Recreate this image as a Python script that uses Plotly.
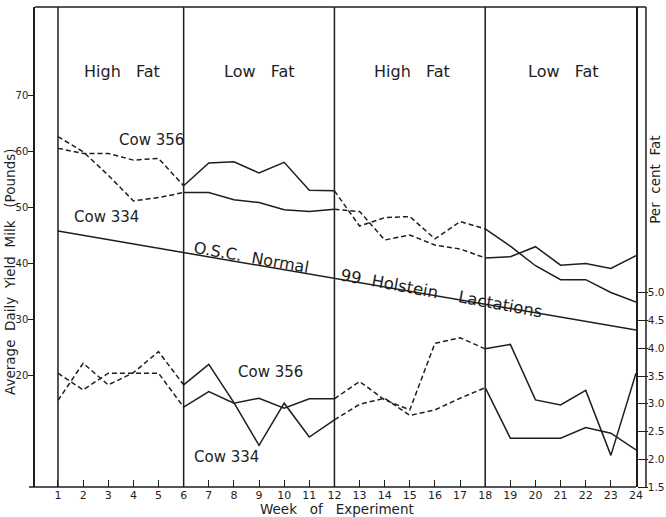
import plotly.graph_objects as go

# Weeks of the experiment
weeks = list(range(1, 25))

# Average daily milk yield (pounds)
milk_cow356 = [60.6, 59.7, 59.7, 58.5, 58.8, 53.9, 58.0, 58.2, 56.2, 58.1, 53.1, 53.0,
               46.7, 48.2, 48.4, 44.4, 47.5, 46.2, 43.1, 39.6, 37.1, 37.1, 34.8, 33.1]
milk_cow334 = [62.7, 60.0, 55.8, 51.2, 51.8, 52.7, 52.7, 51.4, 50.9, 49.6, 49.3, 49.7,
               49.3, 44.2, 45.1, 43.3, 42.6, 41.0, 41.2, 43.0, 39.7, 40.0, 39.1, 41.4]

# O.S.C. normal lactation curve, 99 Holstein lactations (straight line)
normal_weeks = [1, 24]
normal_milk = [45.8, 28.1]

# Per cent fat
fat_cow356 = [3.06, 3.73, 3.34, 3.56, 3.94, 3.34, 3.71, 3.02, 2.25, 3.01, 2.40, 2.71,
              2.99, 3.10, 2.79, 2.89, 3.10, 3.29, 2.38, 2.38, 2.38, 2.57, 2.47, 2.17]
fat_cow334 = [3.55, 3.25, 3.55, 3.55, 3.55, 2.94, 3.22, 3.01, 3.10, 2.92, 3.09, 3.09,
              3.40, 3.07, 2.89, 4.09, 4.19, 3.99, 4.07, 3.07, 2.98, 3.24, 2.07, 3.55]

# Feeding periods
period_bounds = [1, 6, 12, 18, 24]
period_names = ["High\u00a0\u00a0\u00a0Fat", "Low\u00a0\u00a0\u00a0Fat",
                "High\u00a0\u00a0\u00a0Fat", "Low\u00a0\u00a0\u00a0Fat"]
period_centers = [3.55, 9.0, 15.1, 21.1]

milk_ticks = [20, 30, 40, 50, 60, 70]
fat_ticks = [1.5, 2.0, 2.5, 3.0, 3.5, 4.0, 4.5, 5.0]

INK = "#1e1e1e"
FONT = "DejaVu Sans"
LW = 1.5

fig = go.Figure()


def add_periods(values, yaxis):
    # dashed during high-fat periods, solid during low-fat periods
    for i in range(len(period_bounds) - 1):
        a, b = period_bounds[i], period_bounds[i + 1]
        idx = [w - 1 for w in range(a, b + 1)]
        fig.add_trace(go.Scatter(
            x=[weeks[j] for j in idx], y=[values[j] for j in idx],
            mode="lines", yaxis=yaxis, hoverinfo="skip",
            line=dict(color=INK, width=LW, dash="5px,3px" if i % 2 == 0 else "solid"),
        ))


add_periods(milk_cow356, "y")
add_periods(milk_cow334, "y")
add_periods(fat_cow356, "y2")
add_periods(fat_cow334, "y2")

fig.add_trace(go.Scatter(x=normal_weeks, y=normal_milk, mode="lines", yaxis="y",
                         hoverinfo="skip", line=dict(color=INK, width=LW)))

shapes = []
# period dividers
for w in period_bounds[:-1]:
    shapes.append(dict(type="line", xref="x", yref="paper", x0=w, x1=w, y0=0, y1=1,
                       line=dict(color=INK, width=LW)))
# frame: top and outer right edges, bottom axis line
shapes.append(dict(type="line", xref="paper", yref="paper", x0=0, x1=1.0166, y0=1, y1=1,
                   line=dict(color=INK, width=LW)))
shapes.append(dict(type="line", xref="paper", yref="paper", x0=1.0166, x1=1.0166, y0=0, y1=1,
                   line=dict(color=INK, width=LW)))
shapes.append(dict(type="line", xref="paper", yref="paper", x0=-0.01, x1=1, y0=0, y1=0,
                   line=dict(color=INK, width=LW)))

annotations = []
for name, cx in zip(period_names, period_centers):
    annotations.append(dict(text=name, x=cx, y=0.865, xref="x", yref="paper",
                            font=dict(family=FONT, size=16, color=INK)))

cow_font = dict(family=FONT, size=15, color=INK)
osc_font = dict(family=FONT, size=16, color=INK)
axis_font = dict(family=FONT, size=13.5, color=INK)
annotations += [
    dict(text="Cow 356", x=4.74, y=62.1, xref="x", yref="y", font=cow_font),
    dict(text="Cow 334", x=2.93, y=48.3, xref="x", yref="y", font=cow_font),
    dict(text="Cow 356", x=9.44, y=3.58, xref="x", yref="y2", font=cow_font),
    dict(text="Cow 334", x=7.71, y=2.04, xref="x", yref="y2", font=cow_font),
    dict(text="O.S.C.\u00a0\u00a0Normal", x=8.7, y=41.0, xref="x", yref="y",
         textangle=10, font=osc_font),
    dict(text="99\u00a0\u00a0Holstein\u00a0\u00a0\u00a0\u00a0Lactations", x=16.25, y=34.6,
         xref="x", yref="y", textangle=10.5, font=dict(family=FONT, size=16.5, color=INK)),
    dict(text="Average\u00a0\u00a0Daily\u00a0\u00a0Yield\u00a0\u00a0Milk\u00a0\u00a0\u00a0(Pounds)",
         x=-0.0416, y=0.45, xref="paper", yref="paper", textangle=-90, font=axis_font),
    dict(text="Per\u00a0\u00a0cent\u00a0\u00a0Fat", x=1.0316, y=0.64, xref="paper",
         yref="paper", textangle=-90, font=axis_font),
    dict(text="Week\u00a0\u00a0\u00a0of\u00a0\u00a0\u00a0Experiment", x=0.5025, y=-0.046,
         xref="paper", yref="paper", font=axis_font),
]
for a in annotations:
    a.setdefault("showarrow", False)
    a.setdefault("xanchor", "center")
    a.setdefault("yanchor", "middle")

fig.update_layout(
    width=666, height=517,
    margin=dict(l=35, r=30, t=7, b=30),
    paper_bgcolor="white", plot_bgcolor="white",
    showlegend=False,
    font=dict(family=FONT, color=INK),
    xaxis=dict(range=[0.085, 24], tickmode="array", tickvals=weeks,
               ticktext=[str(w) for w in weeks], ticks="inside", ticklen=7,
               tickwidth=1.2, tickcolor=INK, showgrid=False, zeroline=False,
               showline=False, automargin=False,
               tickfont=dict(family=FONT, size=11, color=INK)),
    yaxis=dict(range=[0, 85.9], tickmode="array", tickvals=milk_ticks,
               ticktext=[str(v) for v in milk_ticks], ticks="outside", ticklen=5,
               ticklabelstandoff=-2, automargin=False,
               tickwidth=1.2, tickcolor=INK, showgrid=False, zeroline=False,
               showline=True, linecolor=INK, linewidth=LW,
               tickfont=dict(family=FONT, size=10, color=INK)),
    yaxis2=dict(range=[1.5, 10.15], overlaying="y", side="right", anchor="x",
                tickmode="array", tickvals=fat_ticks,
                ticktext=["%.1f" % v for v in fat_ticks], ticks="outside", ticklen=10,
                ticklabelstandoff=-2, automargin=False,
                tickwidth=1.2, tickcolor=INK, showgrid=False, zeroline=False,
                showline=True, linecolor=INK, linewidth=LW,
                tickfont=dict(family=FONT, size=10.5, color=INK)),
    shapes=shapes,
    annotations=annotations,
)

fig.write_html("out.html")
